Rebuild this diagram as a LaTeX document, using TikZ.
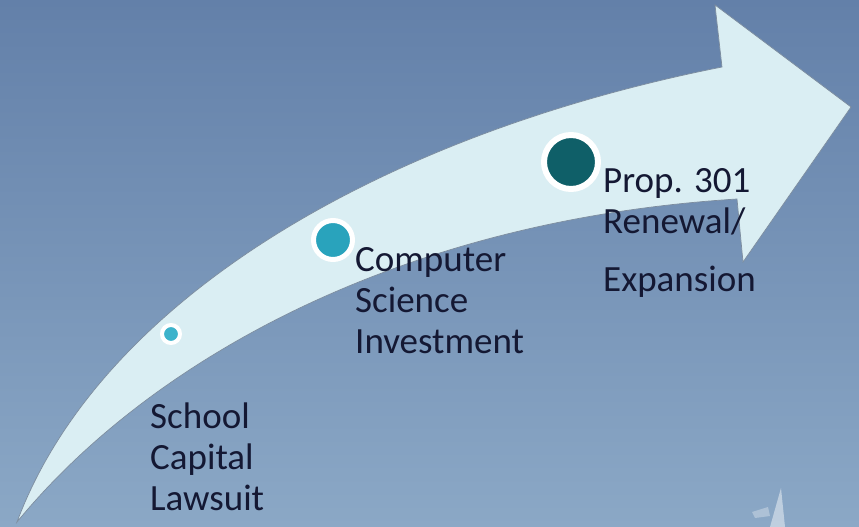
\documentclass[tikz,border=0pt]{standalone}
\usepackage{fontspec}
\setmainfont{Carlito}
\usepackage{tikz}
\usetikzlibrary{shapes,arrows,positioning}
\definecolor{skytop}{HTML}{6380A9}
\definecolor{skybottom}{HTML}{8BA8C6}
\definecolor{arrowfill}{HTML}{DAEEF3}
\definecolor{arrowedge}{HTML}{7C8C9E}
\definecolor{tealsmall}{HTML}{3DB3CB}
\definecolor{tealmid}{HTML}{29A3BC}
\definecolor{tealdark}{HTML}{0F5F68}
\definecolor{labelink}{HTML}{141833}
\tikzstyle{milestone} = [circle, draw=white, inner sep=0pt]
\tikzstyle{dot-small} = [milestone, fill=tealsmall, line width=4pt, minimum size=18pt]
\tikzstyle{dot-mid} = [milestone, fill=tealmid, line width=5pt, minimum size=39pt]
\tikzstyle{dot-big} = [milestone, fill=tealdark, line width=6pt, minimum size=54pt]
\tikzstyle{caption} = [anchor=base west, align=left, inner sep=0pt, text=labelink, font=\fontsize{37}{41}\selectfont]

\begin{document}
\begin{tikzpicture}[x=1pt, y=-1pt]

    % Background sky
    \useasboundingbox (0,0) rectangle (859,527);
    \shade[top color=skytop, bottom color=skybottom] (0,0) rectangle (859,527);
    \fill[white, opacity=0.45] (781,488) -- (785,527) -- (770,527) -- cycle;
    \fill[white, opacity=0.3] (752,512) -- (768,507) -- (770,516) -- (755,518) -- cycle;

    % Curved arrow
    \draw[fill=arrowfill, draw=arrowedge, line width=0.7pt, line join=miter]
      (17,522) .. controls (100,300) and (380,135) .. (722,67)
      -- (715,5) -- (851,107) -- (743,262) -- (737,199)
      .. controls (400,220) and (150,360) .. (17,522) -- cycle;

    % Place nodes (captions sit on the baseline of their last line)
    \node [dot-small] (lawsuit-dot) at (171,334) {};
    \node [dot-mid] (cs-dot) at (333,240) {};
    \node [dot-big] (prop-dot) at (571,162) {};
    \node [caption] (lawsuit) at (150,510) {School\\Capital\\Lawsuit};
    \node [caption] (cs) at (355,353) {Computer\\Science\\Investment};
    \node [caption] (prop) at (603,291) {Prop. 301\\Renewal/\\[17pt]Expansion};

\end{tikzpicture}
\end{document}
